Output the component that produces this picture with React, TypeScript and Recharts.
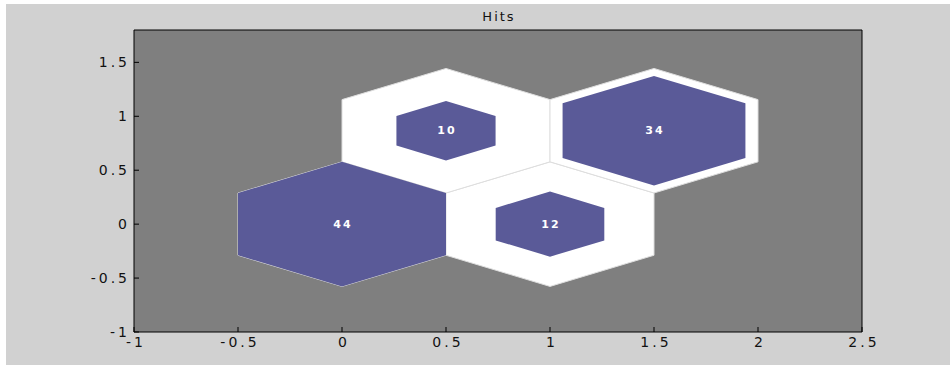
import React from 'react';
import { ScatterChart, Scatter, XAxis, YAxis, CartesianGrid } from 'recharts';

// SOM neuron positions (hex grid) and hit counts
const neuronX = [0, 1, 0.5, 1.5];
const neuronY = [0, 0, 0.866, 0.866];
const hits = [44, 12, 10, 34];

const xTicks = [-1, -0.5, 0, 0.5, 1, 1.5, 2, 2.5];
const yTicks = [-1, -0.5, 0, 0.5, 1, 1.5];

const HEX_R = 1 / Math.sqrt(3);
const maxHits = Math.max(...hits);

const hexVertices = (cx: number, cy: number, scale: number) =>
  [90, 30, -30, -90, -150, 150].map((a) => ({
    x: cx + HEX_R * scale * Math.cos((a * Math.PI) / 180),
    y: cy + HEX_R * scale * Math.sin((a * Math.PI) / 180),
  }));

const outerHexes = neuronX.map((x, i) => hexVertices(x, neuronY[i], 1));
const innerHexes = neuronX.map((x, i) => hexVertices(x, neuronY[i], Math.sqrt(hits[i] / maxHits)));
const centers = neuronX.map((x, i) => ({ x, y: neuronY[i], hits: hits[i] }));

const FONT = 'DejaVu Sans, Verdana, sans-serif';

const HexPoly = (props: any) => {
  const pts = (props.points || []).map((p: any) => `${p.x},${p.y}`).join(' ');
  return <polygon points={pts} fill={props.hexFill} stroke={props.hexStroke} strokeWidth={1} />;
};

const NoDot = () => <g />;

const HitLabel = (props: any) => (
  <text
    x={props.cx + 1}
    y={props.cy}
    textAnchor="middle"
    dominantBaseline="central"
    fill="#ffffff"
    fontSize={11}
    fontWeight="bold"
    letterSpacing={2}
    fontFamily={FONT}
  >
    {props.payload.hits}
  </text>
);

const yTickStyle = { fill: '#111', fontSize: 14, fontFamily: FONT, letterSpacing: 3 };
const xTickStyle = { fill: '#111', fontSize: 14, fontFamily: FONT, letterSpacing: 3, dx: 2 };

export default function App() {
  return (
    <div style={{ position: 'absolute', left: 0, top: 0, width: 950, height: 365, background: '#ffffff' }}>
      <div style={{ position: 'absolute', left: 6, top: 4, width: 944, height: 361, background: '#d1d1d1' }} />
      <div
        style={{
          position: 'absolute', left: 135, top: 9, width: 728, textAlign: 'center',
          fontFamily: FONT, fontSize: 13, lineHeight: '16px', color: '#111', letterSpacing: 2,
        }}
      >
        Hits
      </div>
      <div style={{ position: 'absolute', left: 0, top: 0 }}>
        <ScatterChart width={950} height={365} margin={{ top: 10, right: 48, bottom: 8, left: 74 }}>
          <CartesianGrid horizontal={false} vertical={false} fill="#7f7f7f" />
          <XAxis
            xAxisId="b" type="number" dataKey="x" domain={[-1, 2.5]} ticks={xTicks} interval={0}
            allowDataOverflow height={25} tickSize={-5} tickMargin={10}
            axisLine={{ stroke: '#000' }} tickLine={{ stroke: '#000' }} tick={xTickStyle}
          />
          <XAxis
            xAxisId="t" orientation="top" type="number" dataKey="x" domain={[-1, 2.5]} ticks={xTicks} interval={0}
            allowDataOverflow height={20} tickSize={-5} tick={false}
            axisLine={{ stroke: '#000' }} tickLine={{ stroke: '#000' }}
          />
          <YAxis
            yAxisId="l" type="number" dataKey="y" domain={[-1, 1.8]} ticks={yTicks} interval={0}
            allowDataOverflow width={60} tickSize={-5} tickMargin={9}
            axisLine={{ stroke: '#000' }} tickLine={{ stroke: '#000' }} tick={yTickStyle}
          />
          <YAxis
            yAxisId="r" orientation="right" type="number" dataKey="y" domain={[-1, 1.8]} ticks={yTicks} interval={0}
            allowDataOverflow width={40} tickSize={-5} tick={false}
            axisLine={{ stroke: '#000' }} tickLine={{ stroke: '#000' }}
          />
          {outerHexes.map((pts, i) => (
            <Scatter
              key={`o${i}`} xAxisId="b" yAxisId="l" data={pts} isAnimationActive={false}
              line={<HexPoly hexFill="#ffffff" hexStroke="#dedede" />} lineType="joint" shape={<NoDot />}
            />
          ))}
          {innerHexes.map((pts, i) => (
            <Scatter
              key={`i${i}`} xAxisId="b" yAxisId="l" data={pts} isAnimationActive={false}
              line={<HexPoly hexFill="#5a5a98" hexStroke="none" />} lineType="joint" shape={<NoDot />}
            />
          ))}
          <Scatter xAxisId="b" yAxisId="l" data={centers} isAnimationActive={false} shape={<HitLabel />} />
        </ScatterChart>
      </div>
    </div>
  );
}
